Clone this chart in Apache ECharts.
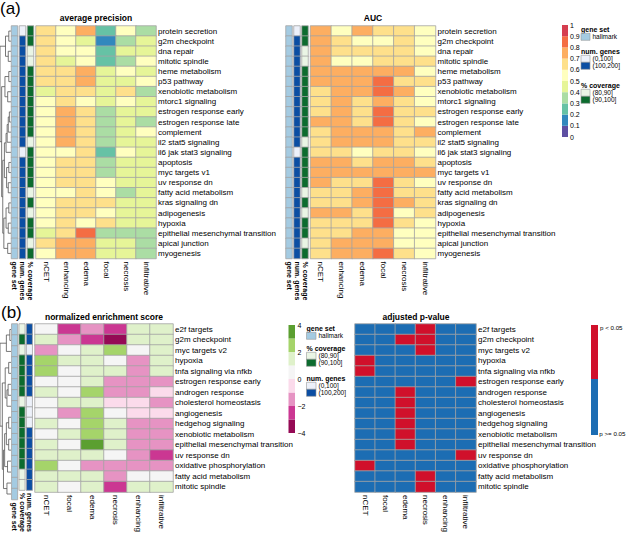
<!DOCTYPE html>
<html><head><meta charset="utf-8">
<script src="https://cdn.jsdelivr.net/npm/echarts@6/dist/echarts.min.js"></script>
<style>html,body{margin:0;padding:0;background:#fff}#c{width:627px;height:535px}</style>
</head><body><div id="c"></div>
<script>
// ---------------- DATA ----------------
const rowsA = ['protein secretion','g2m checkpoint','dna repair','mitotic spindle','heme metabolism','p53 pathway','xenobiotic metabolism','mtorc1 signaling','estrogen response early','estrogen response late','complement','il2 stat5 signaling','il6 jak stat3 signaling','apoptosis','myc targets v1','uv response dn','fatty acid metabolism','kras signaling dn','adipogenesis','hypoxia','epithelial mesenchymal transition','apical junction','myogenesis'];
const colsA = ['nCET','enhancing','edema','focal','necrosis','infiltrative'];
const apValues = [
 [0.65,0.55,0.75,0.25,0.55,0.35],
 [0.65,0.55,0.45,0.15,0.35,0.45],
 [0.65,0.55,0.55,0.25,0.45,0.45],
 [0.65,0.45,0.55,0.25,0.35,0.55],
 [0.65,0.65,0.75,0.45,0.55,0.45],
 [0.65,0.65,0.75,0.45,0.45,0.55],
 [0.45,0.65,0.65,0.45,0.65,0.35],
 [0.55,0.65,0.55,0.45,0.55,0.45],
 [0.55,0.75,0.65,0.35,0.45,0.45],
 [0.55,0.75,0.65,0.35,0.45,0.35],
 [0.55,0.75,0.65,0.35,0.45,0.55],
 [0.55,0.75,0.65,0.35,0.45,0.45],
 [0.55,0.55,0.65,0.25,0.55,0.45],
 [0.55,0.65,0.65,0.35,0.45,0.45],
 [0.55,0.65,0.65,0.35,0.45,0.45],
 [0.55,0.65,0.65,0.55,0.45,0.45],
 [0.55,0.55,0.65,0.55,0.35,0.45],
 [0.55,0.65,0.65,0.65,0.45,0.45],
 [0.55,0.65,0.65,0.55,0.45,0.45],
 [0.55,0.65,0.55,0.65,0.45,0.45],
 [0.45,0.65,0.85,0.35,0.35,0.35],
 [0.65,0.75,0.75,0.45,0.45,0.35],
 [0.55,0.75,0.75,0.45,0.45,0.35]
];
const aucValues = [
 [0.75,0.55,0.75,0.65,0.65,0.55],
 [0.75,0.65,0.55,0.55,0.65,0.55],
 [0.75,0.65,0.65,0.65,0.65,0.55],
 [0.75,0.55,0.55,0.65,0.65,0.65],
 [0.75,0.75,0.75,0.75,0.75,0.55],
 [0.75,0.75,0.75,0.85,0.65,0.65],
 [0.65,0.75,0.75,0.85,0.75,0.55],
 [0.65,0.75,0.65,0.75,0.65,0.55],
 [0.65,0.75,0.65,0.85,0.65,0.65],
 [0.75,0.75,0.65,0.85,0.65,0.55],
 [0.65,0.75,0.75,0.75,0.65,0.75],
 [0.65,0.75,0.75,0.75,0.65,0.65],
 [0.65,0.65,0.55,0.65,0.65,0.55],
 [0.75,0.75,0.65,0.75,0.75,0.65],
 [0.75,0.75,0.75,0.75,0.75,0.75],
 [0.75,0.65,0.65,0.85,0.65,0.55],
 [0.65,0.65,0.75,0.85,0.65,0.65],
 [0.65,0.65,0.75,0.85,0.75,0.65],
 [0.75,0.75,0.65,0.85,0.55,0.65],
 [0.65,0.65,0.65,0.85,0.65,0.55],
 [0.65,0.65,0.75,0.75,0.55,0.55],
 [0.65,0.75,0.75,0.75,0.55,0.55],
 [0.65,0.75,0.75,0.85,0.65,0.55]
];
const geneSetA   = rowsA.map(() => 'hallmark');
const numGenesA  = ['(0,100]','(100,200]','(100,200]','(100,200]','(100,200]','(100,200]','(100,200]','(100,200]','(100,200]','(100,200]','(100,200]','(100,200]','(0,100]','(100,200]','(100,200]','(100,200]','(100,200]','(100,200]','(100,200]','(100,200]','(100,200]','(100,200]','(100,200]'];
const coverageA  = ['(90,100]','(90,100]','(80,90]','(80,90]','(90,100]','(90,100]','(90,100]','(90,100]','(90,100]','(90,100]','(90,100]','(80,90]','(90,100]','(90,100]','(90,100]','(90,100]','(80,90]','(90,100]','(80,90]','(90,100]','(90,100]','(80,90]','(90,100]'];

const rowsB = ['e2f targets','g2m checkpoint','myc targets v2','hypoxia','tnfa signaling via nfkb','estrogen response early','androgen response','cholesterol homeostasis','angiogenesis','hedgehog signaling','xenobiotic metabolism','epithelial mesenchymal transition','uv response dn','oxidative phosphorylation','fatty acid metabolism','mitotic spindle'];
const colsB = ['nCET','focal','edema','necrosis','enhancing','infiltrative'];
const nesValues = [
 [ 0.5,-2.5,-1.5,-2.5, 1.5, 1.5],
 [ 1.5,-1.5,-2.5,-3.5, 1.5, 1.5],
 [-1.5, 0.5, 1.5, 2.5, 0.5, 1.5],
 [ 2.5, 1.5, 1.5, 0.5,-1.5, 1.5],
 [ 2.5, 0.5, 1.5, 1.5,-1.5, 1.5],
 [ 0.5, 0.5, 1.5,-1.5,-1.5,-1.5],
 [ 1.5, 0.5, 2.5,-1.5,-1.5,-0.5],
 [ 0.5, 1.5, 1.5,-0.5,-0.5,-1.5],
 [ 0.5,-1.5, 2.5, 0.5,-0.5,-0.5],
 [ 1.5, 0.5, 2.5, 1.5,-1.5,-1.5],
 [ 0.5, 1.5, 2.5, 1.5,-1.5,-1.5],
 [ 1.5, 0.5, 3.5, 1.5,-1.5,-1.5],
 [ 1.5, 1.5, 1.5, 0.5,-1.5,-2.5],
 [ 2.5, 0.5,-1.5,-1.5,-1.5,-1.5],
 [ 1.5, 1.5, 1.5,-1.5, 0.5, 0.5],
 [ 1.5, 0.5, 1.5,-2.5, 1.5, 1.5]
];
const padjValues = [
 [0.5,0.5,0.5,0.01,0.5,0.5],
 [0.5,0.5,0.01,0.01,0.5,0.5],
 [0.5,0.5,0.5,0.01,0.5,0.5],
 [0.01,0.5,0.5,0.5,0.5,0.5],
 [0.01,0.5,0.5,0.5,0.5,0.5],
 [0.5,0.5,0.5,0.5,0.5,0.01],
 [0.5,0.5,0.01,0.5,0.5,0.5],
 [0.5,0.5,0.01,0.5,0.5,0.5],
 [0.5,0.5,0.01,0.5,0.5,0.5],
 [0.5,0.5,0.01,0.5,0.5,0.5],
 [0.5,0.5,0.01,0.5,0.5,0.5],
 [0.5,0.5,0.01,0.5,0.5,0.5],
 [0.5,0.5,0.5,0.5,0.5,0.01],
 [0.01,0.5,0.5,0.5,0.5,0.5],
 [0.5,0.5,0.5,0.01,0.5,0.5],
 [0.5,0.5,0.5,0.01,0.5,0.5]
];
const geneSetB  = rowsB.map(() => 'hallmark');
const coverageB = ['(80,90]','(90,100]','(80,90]','(90,100]','(90,100]','(90,100]','(90,100]','(80,90]','(90,100]','(90,100]','(90,100]','(90,100]','(90,100]','(90,100]','(80,90]','(80,90]'];
const numGenesB = ['(100,200]','(100,200]','(0,100]','(100,200]','(100,200]','(100,200]','(100,200]','(0,100]','(0,100]','(0,100]','(100,200]','(100,200]','(100,200]','(100,200]','(100,200]','(100,200]'];

// dendrograms: [left, right, height], leaves = row index
const treeA = [[[0,1,2],[2,3,2.5],5],
  [[[4,5,2],[6,7,3],5.5],
   [[[[[[8,9,1.5],10,2.5],11,3.5],12,4.5],[[13,14,2],[15,16,2.5],4],6],
    [[[17,18,2],[19,20,2.5],4.5],[21,22,3],6.5],7.5],8.5],10];
const treeB = [[[0,1,1],2,4],
  [[[3,4,2],[[5,6,2.5],7,3.5],5],
   [[[[8,9,2],[10,11,2],4],[12,13,3],5.5],[14,15,3.5],6.5],7.5],9.5];

const geneSetLevels = ['hallmark'];
const numGenesLevels = ['(0,100]','(100,200]'];
const coverageLevels = ['(80,90]','(90,100]'];
const spectralTicks = ['0','0.1','0.2','0.3','0.4','0.5','0.6','0.7','0.8','0.9','1'];
const nesTicks = ['4','2','0','\u22122','\u22124'];
const pLabels = ['p < 0.05','p >= 0.05'];

// ---------------- STYLE ----------------
const FONT = 'Liberation Sans, Arial, sans-serif';
const SPECTRAL = ['#5E4FA2','#3288BD','#66C2A5','#ABDDA4','#E6F598','#FFFFBF','#FEE08B','#FDAE61','#F46D43','#D53E4F'];
const PIYG = ['#950A55','#CB3792','#E693C3','#FBDBEB','#F5F5F5','#DFF1CA','#A5D46A','#5B9F30']; // -4..4
const PCOL = {sig:'#D0102B', ns:'#1C6DB3'};
const GS_COL = ['#A4CBE2'];
const NG_COL = ['#EDF1FA','#0B4EA3'];
const CV_COL = ['#EAF5E5','#0C6B2E'];
const BORDER = '#A3A3A3';

const grids=[], xAxes=[], yAxes=[], series=[], visualMaps=[], graphics=[];

function addGrid(left, top, width, height){
  grids.push({left, top, width, height});
  return grids.length-1;
}
function heat(gi, cols, rows, matrix, opts){
  xAxes.push({gridIndex:gi, type:'category', data:cols, position:'bottom',
    axisLine:{show:false}, axisTick:{show:false}, splitLine:{show:false},
    axisLabel:{show:opts.xLabel!==false, rotate:-90, margin:3, fontSize:opts.xFont||8, fontWeight:opts.xBold?'bold':'normal', fontFamily:FONT, color:'#000', interval:0}});
  yAxes.push({gridIndex:gi, type:'category', data:rows, inverse:true, position:'right',
    axisLine:{show:false}, axisTick:{show:false}, splitLine:{show:false},
    axisLabel:{show:!!opts.yLabel, margin:2, fontSize:8, fontFamily:FONT, color:'#000', interval:0}});
  const data=[];
  matrix.forEach((row,ri)=>row.forEach((v,ci)=>data.push([ci,ri,v])));
  series.push({type:'heatmap', xAxisIndex:gi, yAxisIndex:gi, data, progressive:0,
    itemStyle:{borderColor:BORDER, borderWidth:0.8}, emphasis:{disabled:true}, silent:true});
  return series.length-1;
}
function annot(gi, name, values, levels, rows){
  const m = values.map(v=>[levels.indexOf(v)]);
  return heat(gi, [name], rows, m, {xBold:true, xFont:7});
}
function dendro(gi, tree, n){
  const lines=[];
  function walk(node){
    if (typeof node==='number') return {y:node, h:0};
    const a=walk(node[0]), b=walk(node[1]), h=node[2];
    lines.push({coords:[[a.h,a.y],[h,a.y],[h,b.y],[b.h,b.y]]});
    return {y:(a.y+b.y)/2, h};
  }
  walk(tree);
  xAxes.push({gridIndex:gi, type:'value', min:0, max:tree[2], inverse:true, show:false});
  yAxes.push({gridIndex:gi, type:'value', min:-0.5, max:n-0.5, inverse:true, show:false});
  series.push({type:'lines', coordinateSystem:'cartesian2d', xAxisIndex:gi, yAxisIndex:gi, polyline:true,
    data:lines, lineStyle:{color:'#555', width:0.8, opacity:1}, silent:true, animation:false});
}
function pieceVM(idxs, pieces){
  visualMaps.push({type:'piecewise', show:false, seriesIndex:idxs, dimension:2, pieces});
}

// ---------------- PANEL A ----------------
const aTop=26, aH=232.5;
dendro(addGrid(0,aTop,11,aH), treeA, rowsA.length);
const annA = [];
annA.push(annot(addGrid(11.5,aTop,6,aH),'gene set',geneSetA,geneSetLevels,rowsA));
annA.push(annot(addGrid(19.5,aTop,6,aH),'num. genes',numGenesA,numGenesLevels,rowsA));
annA.push(annot(addGrid(27.5,aTop,6,aH),'% coverage',coverageA,coverageLevels,rowsA));
const sAP = heat(addGrid(36,aTop,120,aH), colsA, rowsA, apValues, {yLabel:true});
annA.push(annot(addGrid(286,aTop,6,aH),'gene set',geneSetA,geneSetLevels,rowsA));
annA.push(annot(addGrid(294,aTop,6,aH),'num. genes',numGenesA,numGenesLevels,rowsA));
annA.push(annot(addGrid(302,aTop,6,aH),'% coverage',coverageA,coverageLevels,rowsA));
const sAUC = heat(addGrid(310.5,aTop,125,aH), colsA, rowsA, aucValues, {yLabel:true});

// ---------------- PANEL B ----------------
const bTop=324, bH=175.5;
dendro(addGrid(0,bTop,11,bH), treeB, rowsB.length);
const annB=[];
annB.push(annot(addGrid(11.8,bTop,5.6,bH),'gene set',geneSetB,geneSetLevels,rowsB));
annB.push(annot(addGrid(19.2,bTop,5.6,bH),'% coverage',coverageB,coverageLevels,rowsB));
annB.push(annot(addGrid(26.6,bTop,5.6,bH),'num. genes',numGenesB,numGenesLevels,rowsB));
const sNES = heat(addGrid(35,bTop,138,bH), colsB, rowsB, nesValues, {yLabel:true});
const sP = heat(addGrid(355,bTop,121,bH), colsB, rowsB, padjValues, {yLabel:true});

// ---------------- VISUAL MAPS ----------------
pieceVM([sAP,sAUC], SPECTRAL.map((c,i)=>({gte:i/10, lt:(i+1)/10 + (i===9?0.001:0), color:c})));
pieceVM([sNES], PIYG.map((c,i)=>({gte:i-4, lt:i-3, color:c})));
pieceVM([sP], [{lt:0.05, color:PCOL.sig},{gte:0.05, color:PCOL.ns}]);
pieceVM([annA[0],annA[3],annB[0]], [{value:0,color:GS_COL[0]}]);
pieceVM([annA[1],annA[4],annB[2]], [{value:0,color:NG_COL[0]},{value:1,color:NG_COL[1]}]);
pieceVM([annA[2],annA[5],annB[1]], [{value:0,color:CV_COL[0]},{value:1,color:CV_COL[1]}]);

// ---------------- TITLES / LEGENDS ----------------
function txt(text,x,y,size,opts){
  opts=opts||{};
  graphics.push({type:'text', x, y, silent:true, style:{text, fill:'#000',
    font:(opts.bold?'bold ':'')+size+'px '+FONT, textAlign:opts.align||'left', textVerticalAlign:opts.va||'middle'}});
}
function box(x,y,w,h,fill,stroke){
  graphics.push({type:'rect', silent:true, shape:{x,y,width:w,height:h}, style:{fill, stroke:stroke||'none', lineWidth:stroke?0.6:0}});
}
txt('(a)',0,8,17);
txt('(b)',1,312,17);
txt('average precision',96,18,8.5,{bold:true,align:'center'});
txt('AUC',373,18,8.5,{bold:true,align:'center'});
txt('normalized enrichment score',104,317,8.5,{bold:true,align:'center'});
txt('adjusted p-value',416,317,8.5,{bold:true,align:'center'});

// legend A: spectral colour bar
const cbTop=25, cbStep=11.2;
SPECTRAL.forEach((c,i)=>box(562, cbTop+(9-i)*cbStep, 6, cbStep, c));
spectralTicks.forEach((t,k)=>txt(t,570,cbTop+(10-k)*cbStep,7));
function annLegend(x, yTitle, title, levels, cols, bw){
  txt(title,x,yTitle,7,{bold:true});
  levels.forEach((l,i)=>{
    const y=yTitle+3.8+i*7;
    box(x,y,bw,7,cols[i],'#999');
    txt(l,x+bw+2.5,y+3.6,6.5);
  });
}
annLegend(581,29.5,'gene set',geneSetLevels,GS_COL,9);
annLegend(581,51.5,'num. genes',numGenesLevels,NG_COL,9);
annLegend(581,85.5,'% coverage',coverageLevels,CV_COL,9);

// legend B NES colour bar
const nbTop=325, nbStep=13.5;
PIYG.forEach((c,i)=>box(288.5, nbTop+(7-i)*nbStep, 6.5, nbStep, c));
nesTicks.forEach((t,k)=>txt(t,297.5,nbTop+k*2*nbStep,7));
annLegend(306.5,328.5,'gene set',geneSetLevels,GS_COL,9.5);
annLegend(306.5,348.5,'% coverage',coverageLevels,CV_COL,9.5);
annLegend(306.5,378.5,'num. genes',numGenesLevels,NG_COL,9.5);

// legend B p-value
box(591,325,7,54,PCOL.sig);
box(591,379,7,56,PCOL.ns);
txt(pLabels[0],600,327,6.2);
txt(pLabels[1],625.5,433,6.2,{align:'right'});

const chart = echarts.init(document.getElementById('c'), null, {renderer:'svg'});
chart.setOption({
  animation:false,
  backgroundColor:'#fff',
  textStyle:{fontFamily:FONT},
  grid:grids, xAxis:xAxes, yAxis:yAxes, visualMap:visualMaps, series, graphic:graphics
});
</script></body></html>
